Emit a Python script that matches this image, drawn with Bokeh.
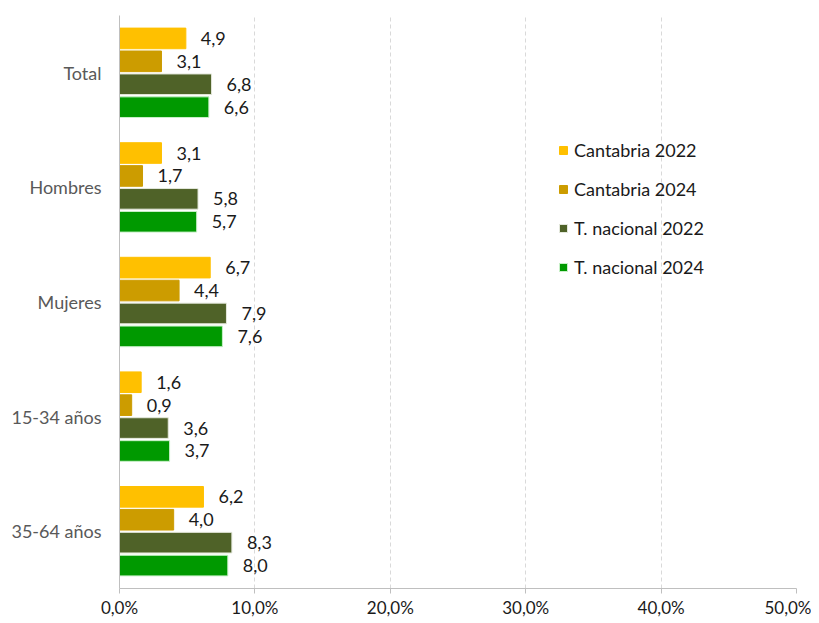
from bokeh.plotting import figure
from bokeh.models import ColumnDataSource, FactorRange, Range1d, Legend, LegendItem, FixedTicker, CustomJSTickFormatter
from bokeh.transform import dodge
from bokeh.core.properties import value
from bokeh.embed import file_html
from bokeh.resources import INLINE

categories = ["Total", "Hombres", "Mujeres", "15-34 años", "35-64 años"]
cantabria_2022 = [4.9, 3.1, 6.7, 1.6, 6.2]
cantabria_2024 = [3.1, 1.7, 4.4, 0.9, 4.0]
nacional_2022 = [6.8, 5.8, 7.9, 3.6, 8.3]
nacional_2024 = [6.6, 5.7, 7.6, 3.7, 8.0]
series_names = ["Cantabria 2022", "Cantabria 2024", "T. nacional 2022", "T. nacional 2024"]
x_ticks = [0, 10, 20, 30, 40, 50]

colors = ["#FFC000", "#CC9C00", "#4F6228", "#009900"]
border = [None, None, "#E4E8DC", "#C8F0C8"]
offsets = [0.3, 0.1, -0.1, -0.3]
series = [cantabria_2022, cantabria_2024, nacional_2022, nacional_2024]

def fmt(v):
    return f"{v:.1f}".replace(".", ",")

data = {"cat": categories}
for i, s in enumerate(series):
    data[f"s{i}"] = s
    data[f"l{i}"] = [fmt(v) for v in s]
source = ColumnDataSource(data)

FONT = "Lato"

p = figure(width=811, height=620, output_backend="svg", toolbar_location=None,
           y_range=FactorRange(*reversed(categories), range_padding=0),
           x_range=Range1d(0, 50),
           min_border_left=119, min_border_right=15, min_border_top=15, min_border_bottom=31)
p.outline_line_color = None
p.background_fill_color = "white"

items = []
for i in range(4):
    r = p.hbar(y=dodge("cat", offsets[i], range=p.y_range), right=f"s{i}", left=0, height=0.18,
               source=source, fill_color=colors[i],
               line_color=border[i] if border[i] else colors[i], line_width=1)
    items.append(LegendItem(label=series_names[i], renderers=[r]))
    p.text(y=dodge("cat", offsets[i], range=p.y_range), x=f"s{i}", text=f"l{i}", source=source,
           x_offset=15, text_align="left", text_baseline="middle",
           text_font=value(FONT), text_font_size="18px", text_color="#1a1a1a")

legend = Legend(items=items, location=(439, 310), orientation="vertical",
                glyph_width=10, glyph_height=10, label_height=22, spacing=17,
                label_standoff=6, padding=0, margin=0,
                border_line_color=None, background_fill_alpha=0,
                label_text_font=FONT, label_text_font_size="18px", label_text_color="#1a1a1a")
p.add_layout(legend, "center")

p.xgrid.grid_line_color = "#D9D9D9"
p.xgrid.grid_line_dash = "4 3"
p.ygrid.grid_line_color = None

p.xaxis.ticker = FixedTicker(ticks=x_ticks)
p.xaxis.formatter = CustomJSTickFormatter(code="return tick.toFixed(1).replace('.', ',') + '%';")
p.xaxis.axis_line_color = "#BFBFBF"
p.xaxis.major_tick_line_color = "#BFBFBF"
p.xaxis.major_tick_out = 5
p.xaxis.major_tick_in = 0
p.xaxis.minor_tick_line_color = None
p.xaxis.major_label_standoff = 3
p.xaxis.major_label_text_font = FONT
p.xaxis.major_label_text_font_size = "17px"
p.xaxis.major_label_text_color = "#1a1a1a"

p.yaxis.axis_line_color = "#BFBFBF"
p.yaxis.major_tick_line_color = None
p.yaxis.major_tick_out = 0
p.yaxis.major_tick_in = 0
p.yaxis.major_label_standoff = 18
p.yaxis.major_label_text_font = FONT
p.yaxis.major_label_text_font_size = "18px"
p.yaxis.major_label_text_color = "#595959"

open("out.html", "w").write(file_html(p, INLINE))
